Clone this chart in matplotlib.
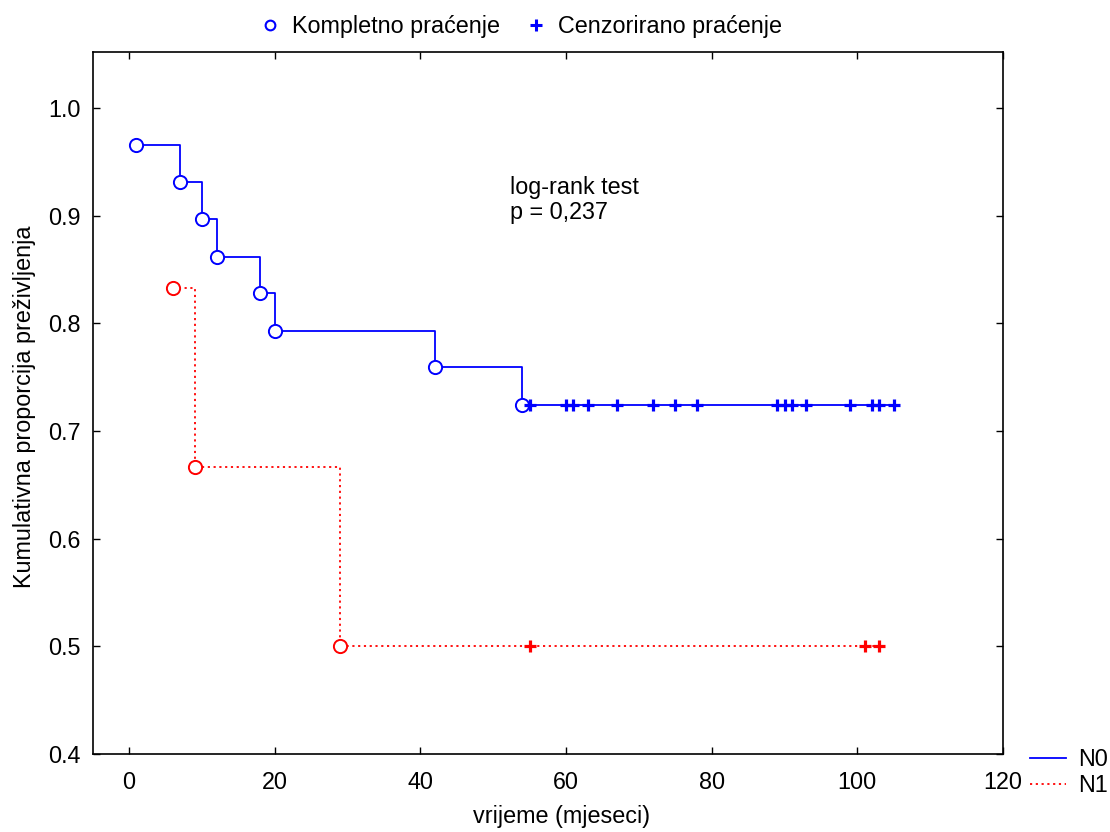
import matplotlib
matplotlib.use("Agg")
import matplotlib.pyplot as plt
from matplotlib.lines import Line2D

plt.rcParams['font.family'] = ['Liberation Sans', 'DejaVu Sans']

# N0 group
n0_event_t = [1, 7, 10, 12, 18, 20, 42, 54]
n0_event_s = [0.966, 0.931, 0.897, 0.862, 0.828, 0.793, 0.759, 0.724]
n0_cens_t = [55, 60, 61, 63, 67, 72, 75, 78, 89, 90, 91, 93, 99, 102, 103, 105]
n0_cens_s = [0.724] * len(n0_cens_t)

# N1 group
n1_event_t = [6, 9, 29]
n1_event_s = [0.833, 0.667, 0.5]
n1_cens_t = [55, 101, 103]
n1_cens_s = [0.5] * len(n1_cens_t)

xticks = [0, 20, 40, 60, 80, 100, 120]
yticks = [0.4, 0.5, 0.6, 0.7, 0.8, 0.9, 1.0]
ytick_labels = ["0.4", "0.5", "0.6", "0.7", "0.8", "0.9", "1.0"]

W, H = 1110, 832
FS = 16.8
fig = plt.figure(figsize=(W / 100, H / 100), dpi=100)
ax = fig.add_axes([92.7 / W, 1 - 754 / H, (1003 - 92.7) / W, (754 - 52) / H])

blue = "#0000ff"
red = "#ff0000"

def step_curve(ev_t, ev_s, cens_t):
    xs = list(ev_t) + [max(cens_t)]
    ys = list(ev_s) + [ev_s[-1]]
    return xs, ys

x0, y0 = step_curve(n0_event_t, n0_event_s, n0_cens_t)
x1, y1 = step_curve(n1_event_t, n1_event_s, n1_cens_t)

ax.step(x0, y0, where='post', color=blue, lw=1.3, zorder=2)
ax.step(x1, y1, where='post', color=red, lw=1.3, ls=(0, (1.2, 2.0)), zorder=2)

ax.plot(n0_event_t, n0_event_s, 'o', ms=9.5, mfc='white', mec=blue, mew=1.4, zorder=3)
ax.plot(n1_event_t, n1_event_s, 'o', ms=9.5, mfc='white', mec=red, mew=1.4, zorder=3)
ax.plot(n0_cens_t, n0_cens_s, '+', ms=9, mec=blue, mew=2.3, zorder=3)
ax.plot(n1_cens_t, n1_cens_s, '+', ms=9, mec=red, mew=2.3, zorder=3)

ax.set_xlim(-5, 120)
ax.set_ylim(0.4, 1.052)
ax.set_xticks(xticks)
ax.set_yticks(yticks)
ax.set_yticklabels(ytick_labels)
ax.tick_params(direction='in', length=5, width=1, labelsize=FS, top=True, right=True)
ax.tick_params(axis='y', pad=8.6)
ax.tick_params(axis='x', pad=12.5)
for s in ax.spines.values():
    s.set_linewidth(1.2)

ax.set_xlabel("vrijeme (mjeseci)", fontsize=FS)
ax.xaxis.set_label_coords((562 - 92.7) / (1003 - 92.7), -(817 - 754) / (754 - 52))
ax.xaxis.label.set_va('center')
ax.set_ylabel("Kumulativna proporcija preživljenja", fontsize=FS)
ax.yaxis.set_label_coords(-(92.7 - 25) / (1003 - 92.7), (754 - 407) / (754 - 52))
ax.yaxis.label.set_va('center')

ax.text(52.3, 0.937, "log-rank test\np = 0,237", fontsize=FS, va='top', ha='left', linespacing=1.12)

# top legend
h_top = [Line2D([], [], ls='none', marker='o', ms=7, mfc='white', mec=blue, mew=1.5),
         Line2D([], [], ls='none', marker='+', ms=9, mec=blue, mew=2.2)]
fig.legend(h_top, ["Kompletno praćenje", "Cenzorirano praćenje"], loc='center',
           bbox_to_anchor=(522 / W, 1 - 27 / H), ncol=2, frameon=False, fontsize=FS,
           handlelength=0.7, handletextpad=0.6, columnspacing=1.2,
           borderpad=0, borderaxespad=0)

# bottom right legend
h_bot = [Line2D([], [], color=blue, lw=1.3),
         Line2D([], [], color=red, lw=1.3, ls=(0, (1.2, 2.0)))]
fig.legend(h_bot, ["N0", "N1"], loc='upper left', bbox_to_anchor=(1030 / W, 1 - 748 / H),
           frameon=False, fontsize=FS, handlelength=1.55, handletextpad=0.5,
           labelspacing=0.12, borderaxespad=0, borderpad=0)

fig.savefig("out.png", dpi=100)
